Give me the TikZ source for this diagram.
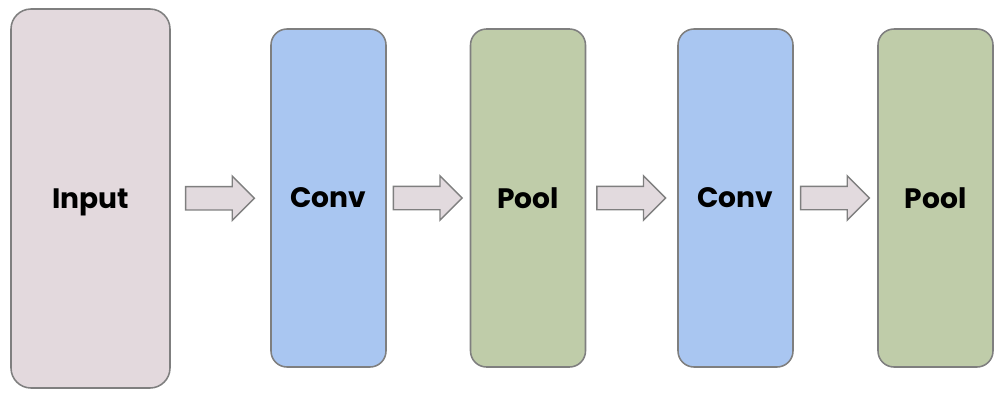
\documentclass[tikz,border=0pt]{standalone}
\usepackage{fontspec}
\setmainfont{Poppins}
\usetikzlibrary{shapes.arrows,calc}
\definecolor{inputfill}{HTML}{E3D9DD}
\definecolor{convfill}{HTML}{A9C6F1}
\definecolor{poolfill}{HTML}{BFCCA9}
\definecolor{layerline}{HTML}{7F7F7F}
\definecolor{arrowfill}{HTML}{E2DADE}
\tikzset{
  layer/.style={draw=layerline, line width=1.1pt, rounded corners=0.4cm,
                minimum width=2.875cm, minimum height=8.45cm, inner sep=0pt,
                text depth=0pt, font=\fontsize{20}{24}\selectfont\bfseries},
  inputlayer/.style={layer, fill=inputfill, minimum width=3.975cm,
                     minimum height=9.475cm, rounded corners=0.5cm},
  convlayer/.style={layer, fill=convfill},
  poollayer/.style={layer, fill=poolfill},
  flowarrow/.style={single arrow, draw=layerline, fill=arrowfill, line width=1pt,
                    minimum height=1.72cm, inner xsep=0pt, inner ysep=0.275cm,
                    single arrow head extend=0.26cm, single arrow head indent=0pt,
                    xshift=-0.16cm},
}
\begin{document}
\begin{tikzpicture}
    \useasboundingbox (0,0) rectangle (25.1,-10.1);
    \node[inputlayer] (in) at (2.2625, -4.9625) {Input};
    \node[convlayer] (conv1) at (8.2125, -4.95) {Conv};
    \node[poollayer] (pool1) at (13.2, -4.95) {Pool};
    \node[convlayer] (conv2) at (18.3875, -4.95) {Conv};
    \node[poollayer] (pool2) at (23.3875, -4.95) {Pool};
    % arrows between the layers
    \node[flowarrow] (a1) at ($(in.east)!0.5!(conv1.west)$ |- 0,-4.975) {};
    \node[flowarrow] (a2) at ($(conv1.east)!0.5!(pool1.west)$ |- 0,-4.975) {};
    \node[flowarrow] (a3) at ($(pool1.east)!0.5!(conv2.west)$ |- 0,-4.975) {};
    \node[flowarrow] (a4) at ($(conv2.east)!0.5!(pool2.west)$ |- 0,-4.975) {};
\end{tikzpicture}
\end{document}
